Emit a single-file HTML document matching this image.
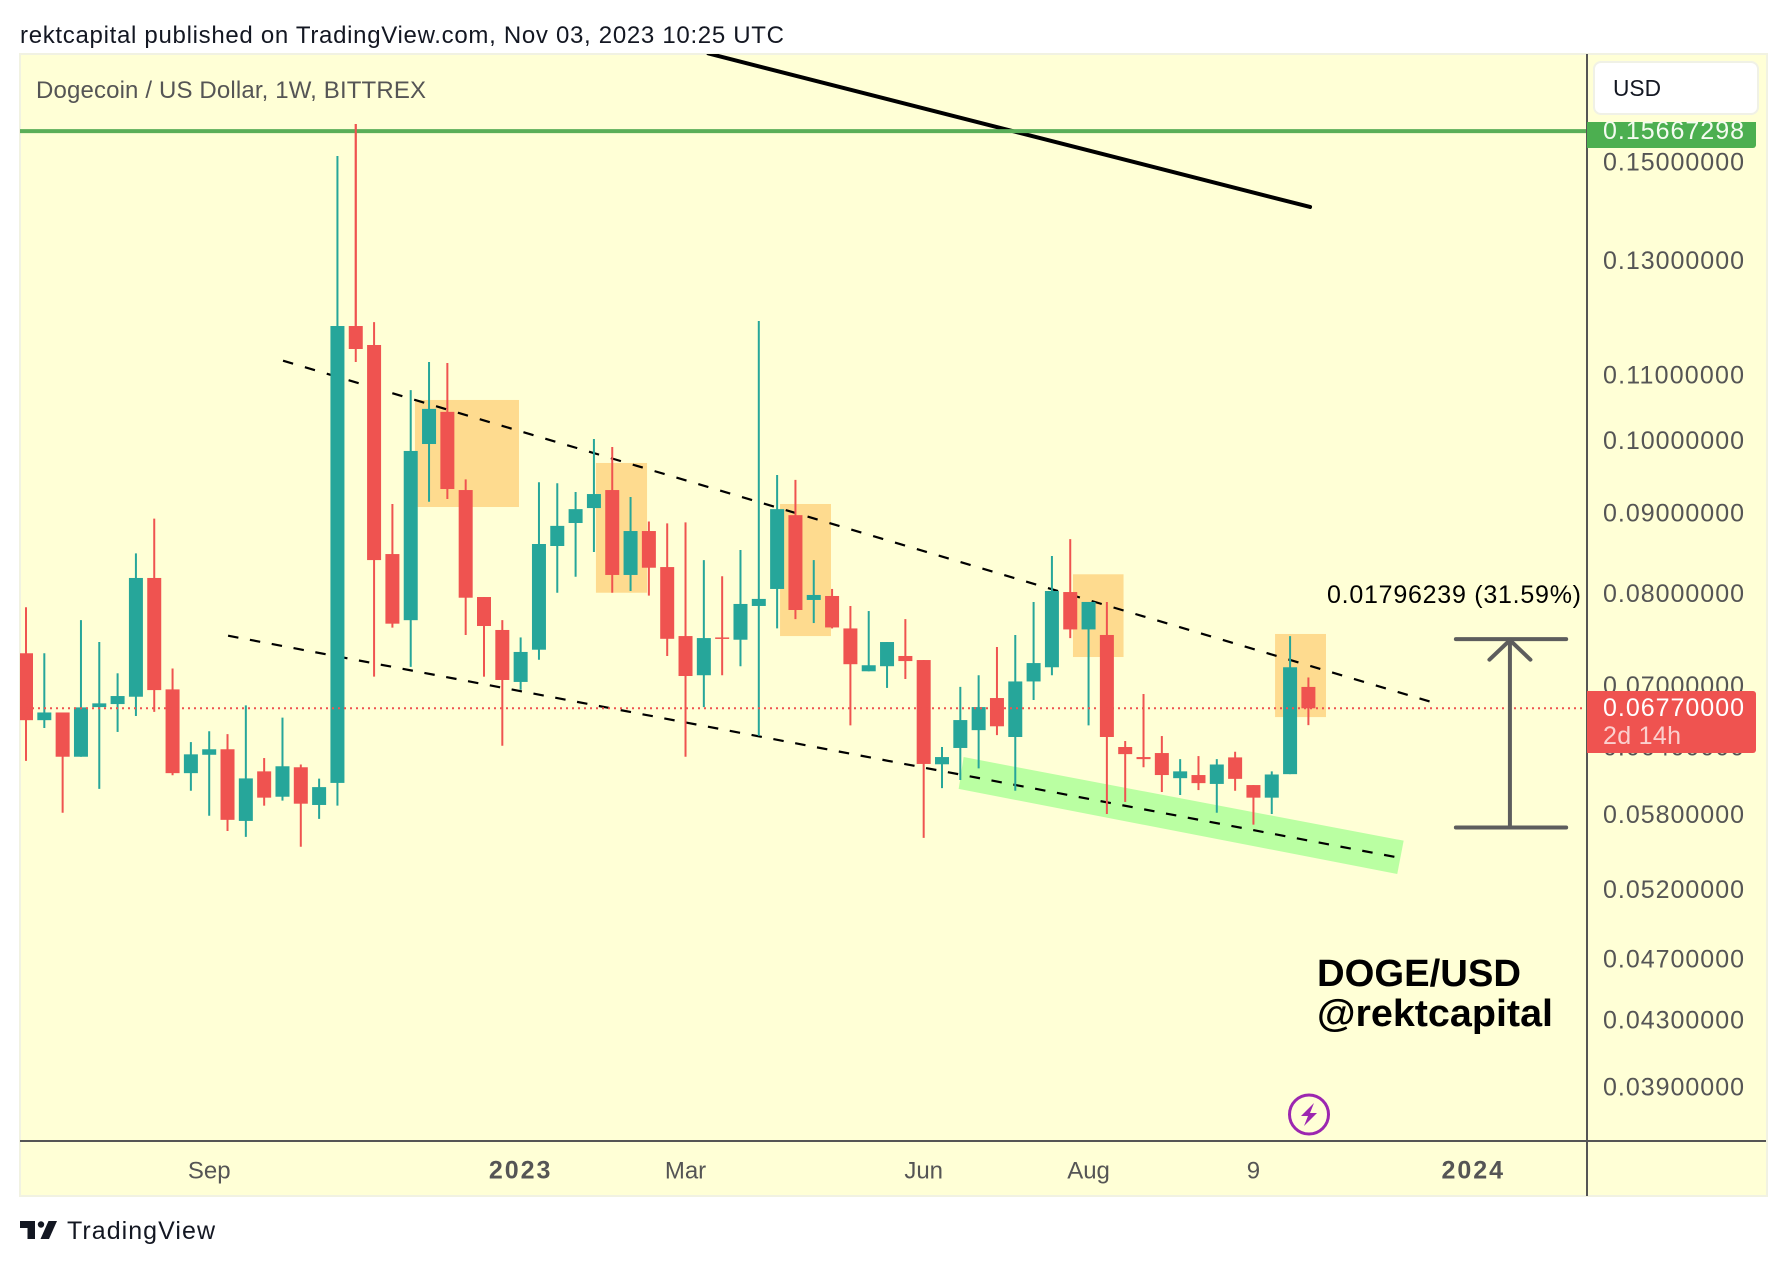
<!DOCTYPE html>
<html lang="en">
<head>
<meta charset="utf-8">
<title>DOGE/USD weekly chart</title>
<style>
  html, body { margin: 0; padding: 0; background: #ffffff; }
  body { width: 1786px; height: 1266px; overflow: hidden; }
  svg { display: block; }
  text { font-family: "Liberation Sans", sans-serif; }
</style>
</head>
<body>
<svg id="chart" xmlns="http://www.w3.org/2000/svg" width="1786" height="1266" viewBox="0 0 1786 1266">
  <defs>
    <clipPath id="plot-clip"><rect x="20" y="54" width="1567" height="1086"></rect></clipPath>
  </defs>
  <text x="20" y="43" font-size="24" fill="#131722" textLength="764" lengthAdjust="spacing">rektcapital published on TradingView.com, Nov 03, 2023 10:25 UTC</text>
  <rect x="20" y="54" width="1747" height="1142" fill="#ffffd6" stroke="#f1f2e2" stroke-width="2"></rect>
  <g id="plot" clip-path="url(#plot-clip)"></g>
  <g id="overlay"></g>
  <line x1="1587" y1="54" x2="1587" y2="1196" stroke="#555555" stroke-width="2"></line>
  <line x1="20" y1="1141" x2="1766" y2="1141" stroke="#555555" stroke-width="2"></line>
  <g id="y-axis"></g>
  <g id="x-axis"></g>
  <text x="36" y="98" font-size="24" fill="#555555" textLength="390" lengthAdjust="spacing">Dogecoin / US Dollar, 1W, BITTREX</text>
  <g>
    <rect x="1594" y="62" width="164" height="52" rx="7" fill="#ffffff" stroke="#f0f1e6" stroke-width="2"></rect>
    <text x="1613" y="96" font-size="23" fill="#131722" textLength="48" lengthAdjust="spacingAndGlyphs">USD</text>
  </g>
  <g>
    <path d="M1587 122H1756V145a3 3 0 0 1-3 3H1587Z" fill="#4caf50"></path>
    <text x="1603" y="139" font-size="25" fill="#f4fbf0" textLength="141" lengthAdjust="spacing">0.15667298</text>
  </g>
  <g>
    <path d="M1587 691H1753a3 3 0 0 1 3 3V750a3 3 0 0 1-3 3H1587Z" fill="#ef5350"></path>
    <text x="1603" y="716" font-size="25" fill="#ffffff" textLength="141" lengthAdjust="spacing">0.06770000</text>
    <text x="1603" y="744" font-size="25" fill="#fbd0ce" textLength="78" lengthAdjust="spacing">2d 14h</text>
  </g>
  <g>
    <text x="1317" y="986" font-size="38" font-weight="700" fill="#000000" textLength="204" lengthAdjust="spacingAndGlyphs">DOGE/USD</text>
    <text x="1317" y="1026" font-size="38" font-weight="700" fill="#000000" textLength="236" lengthAdjust="spacingAndGlyphs">@rektcapital</text>
  </g>
  <g>
    <ellipse cx="1309" cy="1114.5" rx="19.5" ry="19.5" fill="none" stroke="#9c27b0" stroke-width="3"></ellipse>
    <path d="M1314 1103L1301 1116H1308L1304 1126L1317 1113H1310Z" fill="#9c27b0"></path>
  </g>
  <g>
    <path d="M20 1221H35V1239H27.5V1228H20Z" fill="#131722"></path>
    <circle cx="41" cy="1224.5" r="3.2" fill="#131722"></circle>
    <path d="M48.5 1221H57L49 1239H40.5Z" fill="#131722"></path>
    <text x="67" y="1239" font-size="25" fill="#131722" textLength="148" lengthAdjust="spacing">TradingView</text>
  </g>
</svg>
<script>
const weeks = ["2022-06-27","2022-07-04","2022-07-11","2022-07-18","2022-07-25","2022-08-01","2022-08-08","2022-08-15","2022-08-22","2022-08-29",
"2022-09-05","2022-09-12","2022-09-19","2022-09-26","2022-10-03","2022-10-10","2022-10-17","2022-10-24","2022-10-31","2022-11-07",
"2022-11-14","2022-11-21","2022-11-28","2022-12-05","2022-12-12","2022-12-19","2022-12-26","2023-01-02","2023-01-09","2023-01-16",
"2023-01-23","2023-01-30","2023-02-06","2023-02-13","2023-02-20","2023-02-27","2023-03-06","2023-03-13","2023-03-20","2023-03-27",
"2023-04-03","2023-04-10","2023-04-17","2023-04-24","2023-05-01","2023-05-08","2023-05-15","2023-05-22","2023-05-29","2023-06-05",
"2023-06-12","2023-06-19","2023-06-26","2023-07-03","2023-07-10","2023-07-17","2023-07-24","2023-07-31","2023-08-07","2023-08-14",
"2023-08-21","2023-08-28","2023-09-04","2023-09-11","2023-09-18","2023-09-25","2023-10-02","2023-10-09","2023-10-16","2023-10-23","2023-10-30"];
const opens = [.07335,.06654,.06729,.06309,.06782,.06812,.06885,.08185,.06959,.06160,
.06327,.06378,.05746,.06176,.05952,.06213,.05881,.06073,.11813,.11491,
.08475,.07697,.09948,.10425,.09303,.07961,.07588,.07035,.07373,.08575,
.08867,.09062,.09303,.08221,.08764,.08316,.07521,.07104,.07506,.07481,
.07858,.08055,.08969,.07927,.07973,.07605,.07145,.07198,.07306,.07263,
.06240,.06390,.06558,.06872,.06493,.07040,.07187,.08019,.07594,.07533,
.06399,.06306,.06343,.06115,.06143,.06064,.06303,.06054,.05944,.06151,.06984];
const highs = [.07843,.07335,.06729,.07697,.07456,.07124,.08484,.08924,.07174,.06445,
.06548,.06520,.06799,.06297,.06679,.06238,.06111,.15132,.15853,.11881,
.09116,.10761,.11210,.11193,.09449,.07961,.07697,.07506,.09410,.09396,
.09277,.10021,.09905,.09210,.08887,.08862,.08875,.08401,.08205,.08525,
.11900,.09509,.09441,.08401,.08055,.07858,.07800,.07456,.07709,.07263,
.06399,.06984,.07104,.07402,.07533,.07904,.08451,.08662,.07904,.07904,
.06455,.06912,.06502,.06287,.06315,.06287,.06355,.06054,.06176,.07521,.07081];
const lows = [.06271,.06578,.05815,.06309,.06021,.06541,.06695,.06735,.06141,.06004,
.05789,.05662,.05614,.05875,.05918,.05534,.05763,.05875,.11210,.07089,
.07614,.07191,.09146,.09182,.07533,.07089,.06411,.06955,.07266,.08011,
.08200,.08500,.08011,.08031,.07977,.07306,.06309,.06782,.07104,.07198,
.06503,.07605,.07709,.07665,.07605,.06604,.07145,.06974,.07065,.05606,
.06027,.06099,.06203,.06511,.06004,.06852,.07104,.07499,.06604,.05804,
.05907,.06213,.05993,.05967,.06010,.05815,.06004,.05715,.05804,.06151,.06606];
const closes = [.06654,.06729,.06309,.06779,.06819,.06892,.08185,.06952,.06160,.06331,
.06378,.05755,.06113,.05944,.06222,.05892,.06036,.11813,.11424,.08401,
.07658,.09848,.10470,.09317,.07953,.07632,.07055,.07349,.08600,.08830,
.09048,.09249,.08221,.08764,.08308,.07491,.07096,.07499,.07491,.07881,
.07939,.09048,.07812,.07985,.07616,.07219,.07208,.07456,.07252,.06243,
.06306,.06655,.06782,.06595,.07040,.07231,.08031,.07594,.07904,.06493,
.06333,.06287,.06143,.06176,.06071,.06238,.06109,.05944,.06148,.07187,.06770];

const priceTicks = [0.15,0.13,0.11,0.10,0.09,0.08,0.07,0.064,0.058,0.052,0.047,0.043,0.039];
const timeTickDates = ["2022-09-05","2023-01-02","2023-03-06","2023-06-05","2023-08-07","2023-10-09","2024-01-01"];
const timeTickLabels = ["Sep","2023","Mar","Jun","Aug","9","2024"];
const timeTickBold = [false,true,false,false,false,false,true];

const resistancePrice = 0.15667298;
const lastPrice = 0.0677;
const measureTopPrice = 0.07487;
const measureBottomPrice = 0.05691;
const measureWeeks = [78.05, 81.0, 84.07];
const measureLabel = "0.01796239 (31.59%)";

const longTrendWeeks = [37.25, 70.09];
const longTrendPrices = [0.17568, 0.14049];
const upperChannelWeeks = [14.03, 76.73];
const upperChannelPrices = [0.11231, 0.06832];
const lowerChannelWeeks = [11.03, 75.10];
const lowerChannelPrices = [0.07525, 0.05442];
const supportBandWeeks = [51.18, 75.20, 74.85, 50.91];
const supportBandPrices = [0.06306, 0.05583, 0.05319, 0.06020];
const zoneStartWeeks = [21.23, 31.11, 41.16, 57.15, 68.18];
const zoneEndWeeks = [26.91, 33.90, 43.94, 59.91, 70.96];
const zoneTopPrices = [0.10607, 0.09677, 0.09116, 0.08229, 0.07544];
const zoneBottomPrices = [0.09076, 0.08011, 0.07521, 0.07295, 0.06684];

const NS = "http://www.w3.org/2000/svg";
const WEEK_MS = 7 * 24 * 3600 * 1000;
function xOfWeek(i) { return 26 + 18.32 * i; }
function xOfDate(d) { return xOfWeek((Date.parse(d) - Date.parse(weeks[0])) / WEEK_MS); }
function yOf(p) { return 162 + 686.7 * Math.log(0.15 / p); }
function make(tag, parent) {
  const el = document.createElementNS(NS, tag);
  parent.appendChild(el);
  return el;
}
function setAll(el, props) {
  for (const k in props) el.setAttribute(k, props[k]);
}
const plot = document.getElementById("plot");
const overlay = document.getElementById("overlay");
const yAxis = document.getElementById("y-axis");
const xAxis = document.getElementById("x-axis");

zoneStartWeeks.forEach(function (w, i) {
  const r = make("rect", plot);
  
  
  const top = yOf(zoneTopPrices[i]);
  setAll(r, { x: xOfWeek(w), y: top, width: xOfWeek(zoneEndWeeks[i]) - xOfWeek(w), height: yOf(zoneBottomPrices[i]) - top, fill: "#fedb8f" });
});

const band = make("polygon", plot);


setAll(band, { points: supportBandWeeks.map(function (w, i) { return xOfWeek(w) + "," + yOf(supportBandPrices[i]); }).join(" "), fill: "#baffa2" });

const upper = make("line", plot);


setAll(upper, { x1: xOfWeek(upperChannelWeeks[0]), y1: yOf(upperChannelPrices[0]), x2: xOfWeek(upperChannelWeeks[1]), y2: yOf(upperChannelPrices[1]), stroke: "#000000", "stroke-width": 2.2, "stroke-dasharray": "10.5 12.3" });

const lower = make("line", plot);


setAll(lower, { x1: xOfWeek(lowerChannelWeeks[0]), y1: yOf(lowerChannelPrices[0]), x2: xOfWeek(lowerChannelWeeks[1]), y2: yOf(lowerChannelPrices[1]), stroke: "#000000", "stroke-width": 2.2, "stroke-dasharray": "10.5 11.7" });

weeks.forEach(function (w, i) {
  const up = closes[i] >= opens[i];
  const color = up ? "#26a69a" : "#ef5350";
  const g = make("g", plot);
  
  
  const x = xOfDate(w);
  const wick = make("line", g);
  
  
  setAll(wick, { x1: x, x2: x, y1: yOf(highs[i]), y2: yOf(lows[i]), stroke: color, "stroke-width": 2 });
  const body = make("rect", g);
  
  
  const top = yOf(Math.max(opens[i], closes[i]));
  const bot = yOf(Math.min(opens[i], closes[i]));
  setAll(body, { x: x - 7, y: top, width: 14, height: Math.max(1.5, bot - top), fill: color });
});

const longTrend = make("line", plot);


setAll(longTrend, { x1: xOfWeek(longTrendWeeks[0]), y1: yOf(longTrendPrices[0]), x2: xOfWeek(longTrendWeeks[1]), y2: yOf(longTrendPrices[1]), stroke: "#000000", "stroke-width": 4, "stroke-linecap": "round" });

const resistance = make("line", plot);


setAll(resistance, { x1: 20, x2: 1587, y1: yOf(resistancePrice) - 1, y2: yOf(resistancePrice) - 1, stroke: "#5aae58", "stroke-width": 4 });

const redoWick = make("line", plot);


setAll(redoWick, { x1: xOfDate(weeks[18]), x2: xOfDate(weeks[18]), y1: yOf(highs[18]), y2: yOf(opens[18]), stroke: "#ef5350", "stroke-width": 2 });

const lastLine = make("line", plot);


setAll(lastLine, { x1: 20, x2: 1587, y1: yOf(lastPrice), y2: yOf(lastPrice), stroke: "#ef5350", "stroke-width": 2, "stroke-dasharray": "2 4" });

const measureGroup = make("g", overlay);


const mLeft = xOfWeek(measureWeeks[0]);
const mMid = xOfWeek(measureWeeks[1]);
const mRight = xOfWeek(measureWeeks[2]);
const mTop = yOf(measureTopPrice);
const mBot = yOf(measureBottomPrice);
const measureStyle = { stroke: "#5d5d5d", "stroke-width": 4, "stroke-linecap": "round", fill: "none" };
const mTopBar = make("line", measureGroup);


setAll(mTopBar, measureStyle);
setAll(mTopBar, { x1: mLeft, x2: mRight, y1: mTop, y2: mTop });
const mBotBar = make("line", measureGroup);


setAll(mBotBar, measureStyle);
setAll(mBotBar, { x1: mLeft, x2: mRight, y1: mBot, y2: mBot });
const mStem = make("line", measureGroup);


setAll(mStem, measureStyle);
setAll(mStem, { x1: mMid, x2: mMid, y1: mTop + 1, y2: mBot });
const mHead = make("polyline", measureGroup);


setAll(mHead, measureStyle);
setAll(mHead, { points: (mMid - 20.5) + "," + (mTop + 20.5) + " " + mMid + "," + (mTop + 1) + " " + (mMid + 20.5) + "," + (mTop + 20.5) });
const mText = make("text", measureGroup);


setAll(mText, { x: 1327, y: mTop - 36, "font-size": 25, fill: "#000000", textLength: 254, lengthAdjust: "spacing" });
mText.textContent = measureLabel;

priceTicks.forEach(function (p) {
  const t = make("text", yAxis);
  
  
  setAll(t, { x: 1603, y: yOf(p) + 8.5, "font-size": 25, fill: "#555555", textLength: 141, lengthAdjust: "spacing" });
  t.textContent = p.toFixed(8);
});

timeTickDates.forEach(function (d, i) {
  const t = make("text", xAxis);
  
  
  setAll(t, { x: xOfDate(d), y: 1178.5, "font-size": timeTickBold[i] ? 25 : 24, fill: "#555555", "text-anchor": "middle", "font-weight": timeTickBold[i] ? 700 : 400, "letter-spacing": timeTickBold[i] ? 2 : 0 });
  t.textContent = timeTickLabels[i];
});
</script>
</body>
</html>
